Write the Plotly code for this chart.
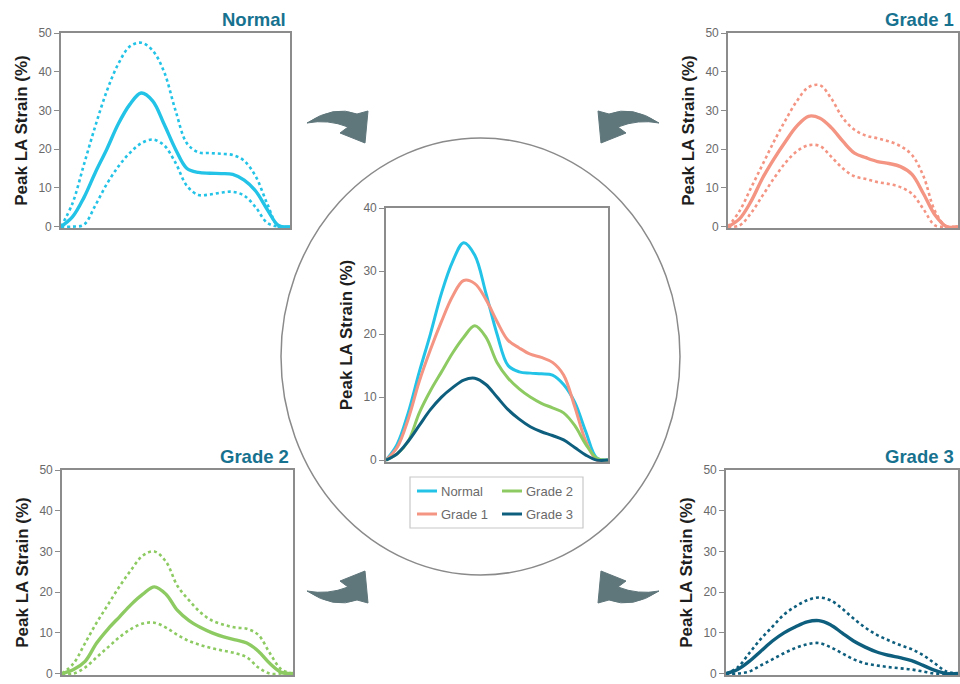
import plotly.graph_objects as go

W, H = 960, 684

# ---------------- data ----------------
time_pct = [0, 5, 10, 15, 20, 25, 30, 35, 40, 45, 50, 55, 60, 65, 70, 75, 80, 85, 90, 95, 100]

normal_mean = [0, 2.5, 7.5, 14, 20, 26.5, 31.5, 34.5, 32.5, 26.5, 20, 15, 14, 13.8, 13.7, 13.5, 12, 9.2, 4.5, 0.3, 0]
normal_upper = [0, 6, 16, 26, 35, 42, 46.5, 47.5, 45.5, 40, 30, 21.5, 19.2, 19, 18.8, 18.5, 17, 13, 6, 0, 0]
normal_lower = [0, 0, 0.5, 5.5, 11, 15.5, 19, 21.5, 22.5, 21, 16.5, 10.5, 8.2, 8.3, 8.8, 9, 8, 5, 1, 0, 0]

grade1_mean = [0, 2, 6.5, 12.5, 17.5, 22, 26, 28.5, 28, 25.5, 22, 19, 17.8, 16.8, 16.3, 15.5, 13.5, 8.5, 3, 0, 0]
grade1_upper = [0, 4, 10, 16, 22, 27.5, 32.5, 36, 36.5, 33, 28, 25, 23.5, 22.8, 22, 20.8, 18.5, 13, 4, 0, 0]
grade1_lower = [0, 0.3, 3.5, 8, 12.5, 16.5, 19.5, 21, 20.8, 18, 15, 13, 12.3, 11.5, 11, 10.2, 8.5, 4.5, 0.3, 0, 0]

grade2_mean = [0, 1, 3, 7.5, 11, 14, 17, 19.5, 21.3, 19.5, 15.5, 13, 11.3, 10, 9, 8.3, 7.5, 5.5, 2.5, 0.3, 0]
grade2_upper = [0, 2.5, 7.5, 12.5, 17, 21.5, 25.5, 29, 30, 27.5, 21.5, 18, 15, 13, 12, 11.3, 11, 9.5, 5, 1, 0]
grade2_lower = [0, 0, 1.5, 4, 6.5, 9, 11, 12.3, 12.5, 11.3, 9.5, 8, 7, 6.2, 5.6, 5, 4, 1.5, 0, 0, 0]

grade3_mean = [0, 1, 3, 5.5, 8, 10, 11.5, 12.7, 13, 12, 10, 8, 6.5, 5.3, 4.5, 3.9, 3.2, 2, 0.8, 0, 0]
grade3_upper = [0, 1.5, 5, 8.5, 11.5, 14.5, 16.5, 18, 18.7, 18, 16, 13.5, 11.3, 9.5, 8.2, 7, 6, 4.5, 2.5, 0.5, 0]
grade3_lower = [0, 0, 0.5, 2, 3.5, 5, 6.3, 7.2, 7.5, 6.5, 5, 3.5, 2.5, 2, 1.6, 1.3, 1, 0.5, 0, 0, 0]

group_names = ["Normal", "Grade 1", "Grade 2", "Grade 3"]
group_colors = ["#22C3E6", "#F49482", "#8DCB62", "#0E5E7E"]

corner_ticks = [0, 10, 20, 30, 40, 50]
center_ticks = [0, 10, 20, 30, 40]
y_title = "<b>Peak LA Strain (%)</b>"

FONT = "Liberation Sans, Arial, sans-serif"
AXIS_GREY = "#8c8c8c"
TITLE_COLOR = "#17728f"
ARROW_COLOR = "#5f767b"


def fx(px):
    return px / W


def fy(py):
    return 1 - py / H


fig = go.Figure()

# corner panels: (name, color, mean, upper, lower, axis idx, box px (x0, x1, ytop, ybottom))
panels = [
    ("Normal", group_colors[0], normal_mean, normal_upper, normal_lower, 1, (61, 290, 33, 228)),
    ("Grade 1", group_colors[1], grade1_mean, grade1_upper, grade1_lower, 2, (728, 958, 33, 228)),
    ("Grade 2", group_colors[2], grade2_mean, grade2_upper, grade2_lower, 3, (62, 293, 470, 675)),
    ("Grade 3", group_colors[3], grade3_mean, grade3_upper, grade3_lower, 4, (726, 958, 470, 675)),
]

annotations = []
shapes = []


def axis_common():
    return dict(showgrid=False, zeroline=False, showline=True, linecolor=AXIS_GREY,
                linewidth=1.6, mirror=True, automargin=False)


for name, color, mean, upper, lower, idx, (x0, x1, yt, yb) in panels:
    xa = "x" if idx == 1 else f"x{idx}"
    ya = "y" if idx == 1 else f"y{idx}"
    for band in (upper, lower):
        fig.add_trace(go.Scatter(x=time_pct, y=band, mode="lines", xaxis=xa, yaxis=ya,
                                 line=dict(color=color, width=2.6, dash="dot", shape="spline", smoothing=1.0),
                                 showlegend=False, hoverinfo="skip"))
    fig.add_trace(go.Scatter(x=time_pct, y=mean, mode="lines", xaxis=xa, yaxis=ya, name=name,
                             line=dict(color=color, width=3.4, shape="spline", smoothing=1.0),
                             showlegend=False))
    xkey = "xaxis" if idx == 1 else f"xaxis{idx}"
    ykey = "yaxis" if idx == 1 else f"yaxis{idx}"
    fig.update_layout(**{
        xkey: dict(domain=[fx(x0), fx(x1)], range=[0, 100], anchor=ya,
                   showticklabels=False, ticks="", **axis_common()),
        ykey: dict(domain=[fy(yb), fy(yt)], range=[-0.35, 50], anchor=xa,
                   tickvals=corner_ticks, ticks="outside", ticklen=5, tickcolor=AXIS_GREY,
                   tickwidth=1.3, tickfont=dict(size=12, color="#6a6a6a", family=FONT),
                   title=dict(text=y_title, font=dict(size=17, color="#1e1e1e", family=FONT), standoff=6),
                   **axis_common()),
    })
    annotations.append(dict(text=f"<b>{name}</b>", x=fx(x1 - 2), y=fy(yt - 14), xref="paper", yref="paper",
                            xanchor="right", yanchor="middle", showarrow=False,
                            font=dict(size=18.5, color=TITLE_COLOR, family=FONT)))

# center panel
cx0, cx1, cyt, cyb = 386, 608, 208, 462
center_means = [normal_mean, grade1_mean, grade2_mean, grade3_mean]
for name, color, mean in zip(group_names, group_colors, center_means):
    fig.add_trace(go.Scatter(x=time_pct, y=mean, mode="lines", xaxis="x5", yaxis="y5", name=name,
                             line=dict(color=color, width=3, shape="spline", smoothing=1.0),
                             showlegend=False))
fig.update_layout(
    xaxis5=dict(domain=[fx(cx0), fx(cx1)], range=[0, 100], anchor="y5",
                showticklabels=False, ticks="", **axis_common()),
    yaxis5=dict(domain=[fy(cyb), fy(cyt)], range=[-0.3, 40], anchor="x5",
                tickvals=center_ticks, ticks="outside", ticklen=5, tickcolor=AXIS_GREY, tickwidth=1.3,
                tickfont=dict(size=12, color="#6a6a6a", family=FONT),
                title=dict(text=y_title, font=dict(size=17, color="#1e1e1e", family=FONT), standoff=6),
                **axis_common()),
)

# circle around the center panel
shapes.append(dict(type="circle", xref="paper", yref="paper",
                   x0=fx(281), x1=fx(680), y0=fy(575), y1=fy(138),
                   line=dict(color="#8a8a8a", width=1.5), layer="below"))

# manual legend inside the circle
shapes.append(dict(type="rect", xref="paper", yref="paper", x0=fx(410), x1=fx(583), y0=fy(528), y1=fy(477),
                   line=dict(color="#c8c8c8", width=1.2), fillcolor="white"))
legend_pos = [(417, 491), (417, 514), (502, 491), (502, 514)]  # Normal, Grade 1, Grade 2, Grade 3
for name, color, (lx, ly) in zip(group_names, group_colors, legend_pos):
    shapes.append(dict(type="line", xref="paper", yref="paper", x0=fx(lx), x1=fx(lx + 20),
                       y0=fy(ly), y1=fy(ly), line=dict(color=color, width=3)))
    annotations.append(dict(text=name, x=fx(lx + 22), y=fy(ly), xref="paper", yref="paper",
                            xanchor="left", yanchor="middle", showarrow=False,
                            font=dict(size=13, color="#6a6a6a", family=FONT)))


# curved arrows (top-left template, mirrored for the others)
def arrow_path(mx, my):
    def p(x, y):
        X = 966 - x if mx else x
        Y = 714 - y if my else y
        return f"{fx(X):.5f},{fy(Y):.5f}"
    return (f"M {p(307,123)} Q {p(334,105)} {p(357,114)} L {p(368,111)} L {p(365,143)} "
            f"L {p(340,133)} L {p(348,127)} Q {p(328,119)} {p(307,123)} Z")


for mx, my in [(False, False), (True, False), (False, True), (True, True)]:
    shapes.append(dict(type="path", xref="paper", yref="paper", path=arrow_path(mx, my),
                       fillcolor=ARROW_COLOR, line=dict(color=ARROW_COLOR, width=1)))

fig.update_layout(
    width=W, height=H,
    margin=dict(l=0, r=0, t=0, b=0, autoexpand=False),
    paper_bgcolor="white", plot_bgcolor="rgba(0,0,0,0)",
    font=dict(family=FONT),
    showlegend=False,
    shapes=shapes,
    annotations=annotations,
)

fig.write_html("out.html", config={"displayModeBar": False},
               post_script="document.body.style.margin='0px';document.body.style.overflow='hidden';")
